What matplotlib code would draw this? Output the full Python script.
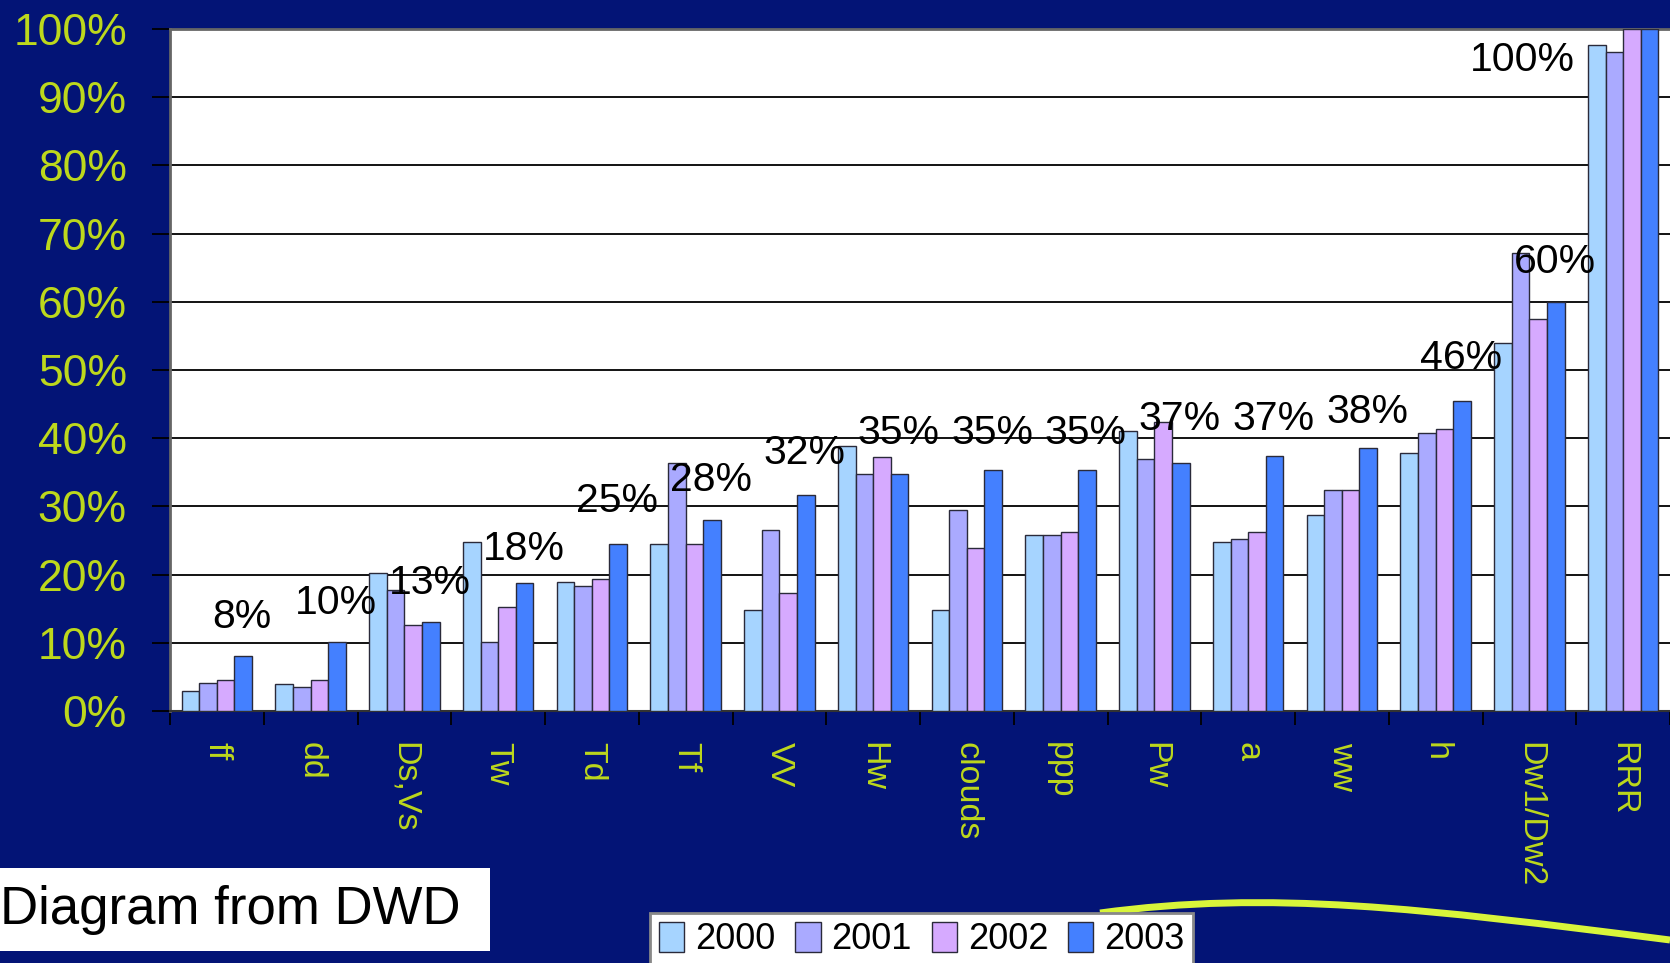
import numpy as np
import matplotlib.pyplot as plt
from matplotlib.patches import Rectangle, PathPatch
from matplotlib.path import Path

plt.rcParams['font.family'] = ['Liberation Sans', 'DejaVu Sans']

categories = ['ff', 'dd', 'Ds,Vs', 'Tw', 'Td', 'Tf', 'VV', 'Hw', 'clouds',
              'ppp', 'Pw', 'a', 'ww', 'h', 'Dw1/Dw2', 'RRR']
years = ['2000', '2001', '2002', '2003']
v2000 = [3.0, 4.0, 20.2, 24.8, 18.9, 24.5, 14.8, 38.8, 14.8, 25.8, 41.0, 24.8, 28.8, 37.9, 53.9, 97.6]
v2001 = [4.1, 3.5, 17.7, 10.1, 18.4, 36.3, 26.6, 34.7, 29.5, 25.8, 36.9, 25.2, 32.4, 40.8, 67.2, 96.6]
v2002 = [4.6, 4.6, 12.6, 15.2, 19.4, 24.5, 17.3, 37.2, 23.9, 26.3, 42.4, 26.3, 32.4, 41.3, 57.5, 100.0]
v2003 = [8.1, 10.1, 13.1, 18.7, 24.5, 28.0, 31.6, 34.7, 35.4, 35.4, 36.4, 37.4, 38.5, 45.4, 60.0, 100.0]
avg_labels = [8, 10, 13, 18, 25, 28, 32, 35, 35, 35, 37, 37, 38, 46, 60, 100]

colors = ['#a6d4ff', '#aaaaff', '#d6aaff', '#4480ff']
bg = '#031476'
tick_col = '#bdd81c'

fig = plt.figure(figsize=(16.7, 9.63), dpi=100, facecolor=bg)
ax = fig.add_axes([170 / 1670, 1 - 711 / 963, 1 - 170 / 1670, (711 - 29) / 963])
ax.set_facecolor('white')

x = np.arange(len(categories))
w = 0.1875
for j, vals in enumerate([v2000, v2001, v2002, v2003]):
    ax.bar(x + (j - 1.5) * w, vals, w, color=colors[j], edgecolor='#2a2a3a',
           linewidth=1.0, label=years[j], zorder=3)

for i, lab in enumerate(avg_labels):
    if i == len(avg_labels) - 1:
        ax.text(i - 1.07, 95.4, f'{lab}%', ha='center', va='center', fontsize=29.5, color='black', zorder=5)
    else:
        ax.text(i + 0.27, lab + 5.8, f'{lab}%', ha='center', va='center', fontsize=29.5, color='black', zorder=5)

ax.set_xlim(-0.5, 15.43)
ax.set_ylim(0, 100)
ax.set_yticks(np.arange(0, 101, 10))
ax.set_yticklabels([f'{v}%' for v in range(0, 101, 10)], fontsize=32, color=tick_col)
ax.yaxis.grid(True, color='black', linewidth=1.3, zorder=0)
ax.set_axisbelow(True)
ax.tick_params(axis='y', length=13, width=1.3, color='black', pad=18)

ax.set_xticks(x)
ax.set_xticklabels(categories, rotation=-90, fontsize=24.5, color=tick_col, va='top', ha='center')
ax.set_xticks(np.arange(-0.5, 16, 1), minor=True)
ax.tick_params(axis='x', which='major', length=0, pad=22)
ax.tick_params(axis='x', which='minor', length=10, width=1.3, color='black')

for s in ['top', 'left']:
    ax.spines[s].set_color('#666666')
    ax.spines[s].set_linewidth(2)
ax.spines['right'].set_visible(False)
ax.spines['bottom'].set_color('#333333')
ax.spines['bottom'].set_linewidth(1.5)

# decorative swoosh
verts = [(1100 / 1670, 1 - 913 / 963), (1270 / 1670, 1 - 890 / 963),
         (1420 / 1670, 1 - 908 / 963), (1.0, 1 - 940 / 963)]
swoosh = PathPatch(Path(verts, [Path.MOVETO, Path.CURVE4, Path.CURVE4, Path.CURVE4]),
                   transform=fig.transFigure, facecolor='none', edgecolor='#d8f53a', linewidth=5)
fig.patches.append(swoosh)

fig.patches.append(Rectangle((0, 1 - 951 / 963), 490 / 1670, 83 / 963, transform=fig.transFigure,
                             facecolor='white', edgecolor='none'))
fig.text(0.0, 1 - 910 / 963, 'Diagram from DWD', fontsize=38, color='black', ha='left', va='center')

leg = fig.legend(loc='upper left', bbox_to_anchor=(650 / 1670, 1 - 913 / 963), ncol=4, fontsize=26,
                 frameon=True, fancybox=False, edgecolor='#888888', facecolor='white', framealpha=1,
                 handlelength=0.7, handleheight=0.9, handletextpad=0.3, columnspacing=0.55,
                 borderpad=0.25, borderaxespad=0)
leg.get_frame().set_linewidth(2)

fig.savefig('out.png', dpi=100, facecolor=bg)
